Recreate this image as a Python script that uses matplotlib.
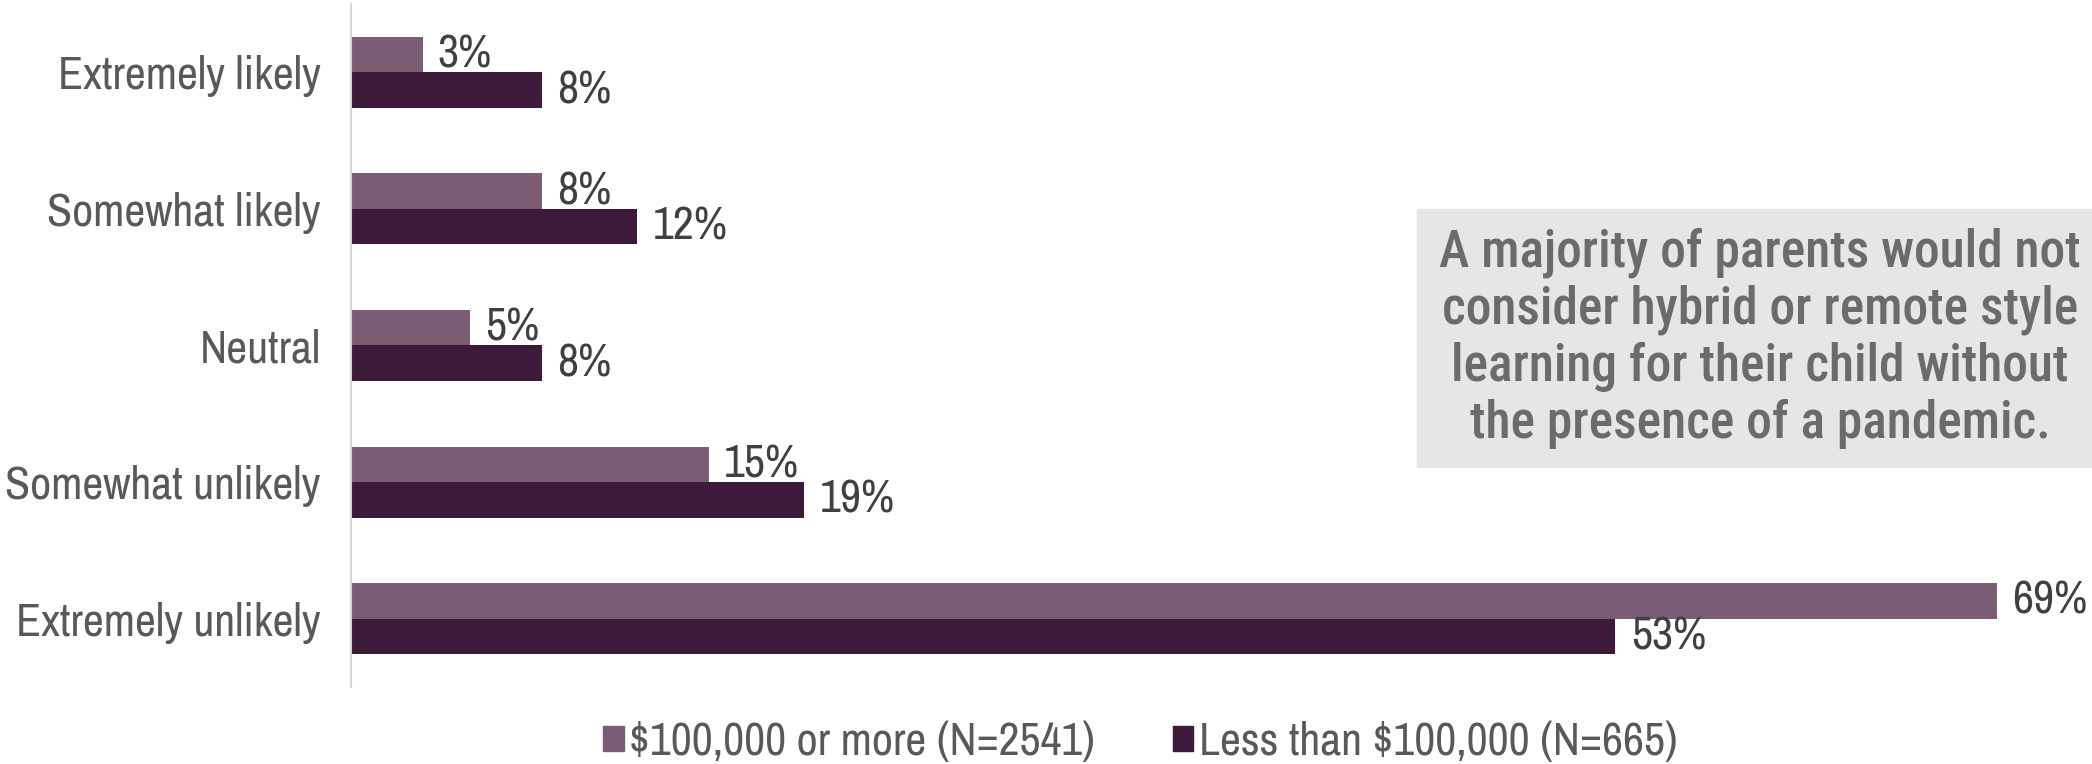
import numpy as np
import matplotlib
matplotlib.use("Agg")
import matplotlib.pyplot as plt
from matplotlib.patches import Patch

# data
categories = ["Extremely likely", "Somewhat likely", "Neutral",
              "Somewhat unlikely", "Extremely unlikely"]
high_income = [3, 8, 5, 15, 69]   # $100,000 or more
low_income = [8, 12, 8, 19, 53]   # Less than $100,000
series_names = ["$100,000 or more (N=2541)", "Less than $100,000 (N=665)"]
note = ("A majority of parents would not\nconsider hybrid or remote style\n"
        "learning for their child without\nthe presence of a pandemic.")

light = "#7a5d74"
dark = "#3d1a3a"
font = ["Liberation Sans Narrow", "Archivo Narrow", "Liberation Sans", "DejaVu Sans"]
box_font = ["Roboto Condensed", "Archivo Narrow", "Liberation Sans", "DejaVu Sans"]

fig = plt.figure(figsize=(20.92, 7.64), dpi=100)
ax = fig.add_axes([351 / 2092, 1 - 687 / 764, (2021 - 351) / 2092, 683 / 764])

y = np.arange(len(categories))
h = 0.26
ax.barh(y - h / 2, high_income, height=h, color=light, label=series_names[0])
ax.barh(y + h / 2, low_income, height=h, color=dark, label=series_names[1])

for yi, v in zip(y, high_income):
    ax.annotate(f"{v}%", xy=(v, yi - h / 2), xytext=(11, 0), textcoords="offset points",
                va="center", ha="left", fontsize=33, color="#404040", family=font)
for yi, v in zip(y, low_income):
    ax.annotate(f"{v}%", xy=(v, yi + h / 2), xytext=(11, 0), textcoords="offset points",
                va="center", ha="left", fontsize=33, color="#404040", family=font)

ax.set_xlim(0, 70)
ax.set_ylim(4.5, -0.5)
ax.set_yticks(y)
ax.set_yticklabels(categories, fontsize=33, color="#595959", family=font)
ax.tick_params(axis="y", length=0, pad=22)
ax.set_xticks([])
for s in ["top", "right", "bottom"]:
    ax.spines[s].set_visible(False)
ax.spines["left"].set_color("#d9d9d9")
ax.spines["left"].set_linewidth(1.5)

# grey call-out box
fig.patches.append(plt.Rectangle((1417 / 2092, 1 - 467 / 764), (2092 - 1417) / 2092, 258 / 764,
                                 transform=fig.transFigure, color="#e6e6e6", zorder=0))
fig.text(1760 / 2092, 1 - 338 / 764, note, ha="center", va="center", fontsize=37,
         color="#6b6b6b", family=box_font, weight="medium", linespacing=1.17)

handles = [Patch(color=light), Patch(color=dark)]
fig.legend(handles, series_names, loc="center", bbox_to_anchor=(0.545, 1 - 742 / 764),
           ncol=2, frameon=False, prop={"family": font, "size": 33},
           labelcolor="#595959", handlelength=0.45, handleheight=0.45,
           handletextpad=0.12, columnspacing=1.7)

fig.savefig("out.png", dpi=100)
